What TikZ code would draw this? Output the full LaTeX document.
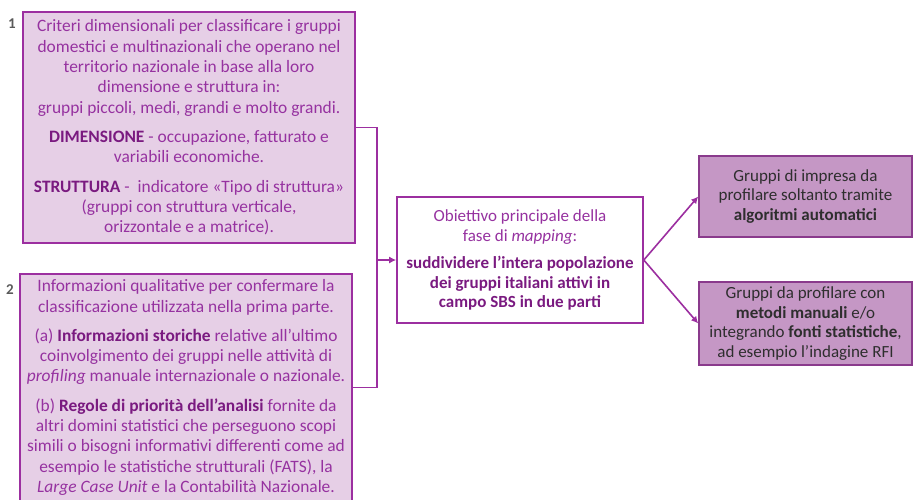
\documentclass[tikz,border=0pt]{standalone}
\usepackage{fontspec}
\setmainfont{Carlito}
\usetikzlibrary{arrows.meta}
\definecolor{lilla}{HTML}{E6CFE6}
\definecolor{viola}{HTML}{9C2FA0}
\definecolor{violascuro}{HTML}{7A1A80}
\definecolor{testoviola}{HTML}{9632A0}
\definecolor{malva}{HTML}{C597C5}
\definecolor{bordomalva}{HTML}{8A3A8C}
\definecolor{grigio}{HTML}{5A5A5A}
\definecolor{scuro}{HTML}{2E2E2E}
\newcommand{\evid}[1]{\textbf{\color{violascuro}#1}}
\begin{document}
\begin{tikzpicture}[x=1pt, y=-1pt,
    criterio/.style={draw=viola, line width=1.6pt, fill=lilla, text=testoviola,
      align=center, inner sep=0pt, font=\fontsize{17.4}{20.3}\selectfont},
    obiettivo/.style={draw=viola, line width=1.6pt, fill=white, text=testoviola,
      align=center, inner sep=0pt, font=\fontsize{17}{19.5}\selectfont},
    gruppo/.style={draw=bordomalva, line width=1.6pt, fill=malva, text=scuro,
      align=center, inner sep=0pt, font=\fontsize{17}{19.5}\selectfont},
    numero/.style={text=grigio, font=\fontsize{15}{15}\selectfont\bfseries},
    freccia/.style={draw=viola, line width=1.6pt, -{Latex[length=7pt,width=7pt]}}
  ]
  \useasboundingbox (0,0) rectangle (915,499);

  % colonna di sinistra
  \node[criterio, minimum width=332, minimum height=231] (crit1) at (189,127.5) {%
    Criteri dimensionali per classificare i gruppi\\
    domestici e multinazionali che operano nel\\
    territorio nazionale in base alla loro\\
    dimensione e struttura in:\\
    gruppi piccoli, medi, grandi e molto grandi.\\[9pt]
    \evid{DIMENSIONE} - occupazione, fatturato e\\
    variabili economiche.\\[9pt]
    \evid{STRUTTURA} -\ \ indicatore «Tipo di struttura»\\
    (gruppi con struttura verticale,\\
    orizzontale e a matrice).};
  \node[numero] (n1) at (12,24) {1};

  \node[criterio, minimum width=332, minimum height=227] (crit2) at (186,387.5) {%
    Informazioni qualitative per confermare la\\
    classificazione utilizzata nella prima parte.\\[9pt]
    (a) \evid{Informazioni storiche} relative all’ultimo\\
    coinvolgimento dei gruppi nelle attività di\\
    \textit{profiling} manuale internazionale o nazionale.\\[9pt]
    (b) \evid{Regole di priorità dell’analisi} fornite da\\
    altri domini statistici che perseguono scopi\\
    simili o bisogni informativi differenti come ad\\
    esempio le statistiche strutturali (FATS), la\\
    \textit{Large Case Unit} e la Contabilità Nazionale.};
  \node[numero] (n2) at (10,290) {2};

  % obiettivo centrale
  \node[obiettivo, minimum width=246, minimum height=126] (mapping) at (520,260) {%
    Obiettivo principale della\\
    fase di \textit{mapping}:\\[8pt]
    \evid{suddividere l’intera popolazione}\\
    \evid{dei gruppi italiani attivi in}\\
    \evid{campo SBS in due parti}};

  % gruppi a destra
  \node[gruppo, minimum width=213, minimum height=81] (auto) at (805.5,196.5) {%
    Gruppi di impresa da\\
    profilare soltanto tramite\\
    \textbf{algoritmi automatici}};
  \node[gruppo, minimum width=213, minimum height=83] (manuale) at (805.5,323.5) {%
    Gruppi da profilare con\\
    \textbf{metodi manuali} e/o\\
    integrando \textbf{fonti statistiche},\\
    ad esempio l’indagine RFI};

  % collegamenti
  \coordinate (snodo) at (377,260);
  \draw[viola, line width=1.6pt] (crit1.east) -| (snodo) |- (crit2.east);
  \draw[freccia] (snodo) -- (mapping.west);
  \draw[freccia] (mapping.east) -- (auto.west);
  \draw[freccia] (mapping.east) -- (manuale.west);
\end{tikzpicture}
\end{document}
